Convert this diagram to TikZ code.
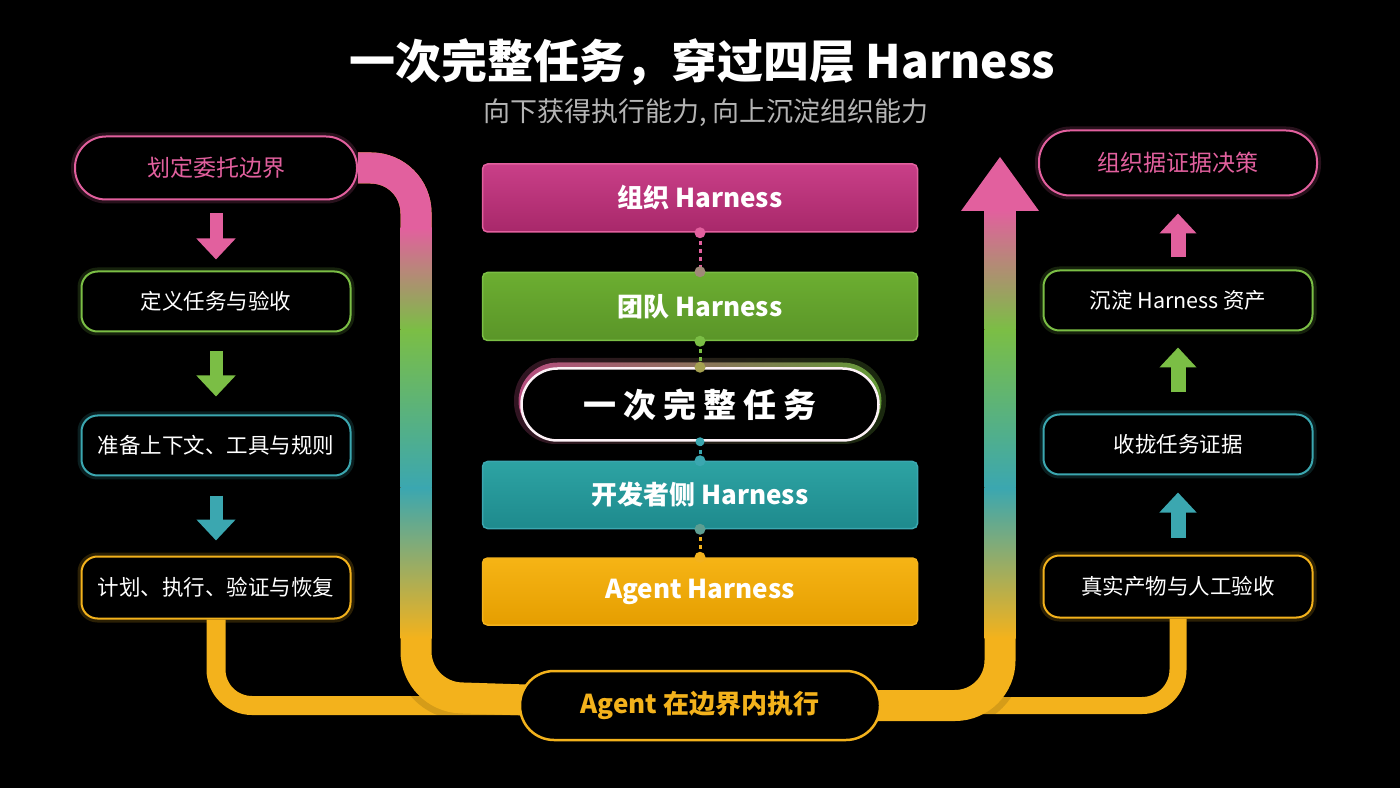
\documentclass[tikz,border=0pt]{standalone}
\usepackage{fontspec}
\setmainfont{Noto Sans CJK SC}
\usetikzlibrary{arrows.meta, positioning}
\definecolor{pinkc}{HTML}{E2609E}
\definecolor{greenc}{HTML}{7BBE45}
\definecolor{tealc}{HTML}{3BA7B0}
\definecolor{yellowc}{HTML}{F3B21C}
\definecolor{subgrey}{HTML}{B4B4B4}
\definecolor{orgtop}{HTML}{C93F88}
\definecolor{orgbot}{HTML}{A8286A}
\definecolor{teamtop}{HTML}{6CAE31}
\definecolor{teambot}{HTML}{5A9528}
\definecolor{devtop}{HTML}{2DA3A3}
\definecolor{devbot}{HTML}{1E8A8D}
\definecolor{agtop}{HTML}{F6B415}
\definecolor{agbot}{HTML}{E59E00}
\definecolor{mixa}{HTML}{A08A78}
\definecolor{mixb}{HTML}{A4A050}
\definecolor{mixc}{HTML}{5E9E92}
\pgfdeclarelayer{bg}
\pgfsetlayers{bg,main}

\begin{document}
\begin{tikzpicture}
[x=1pt, y=1pt,
   sidebox/.style={shape=rectangle, rounded corners=16pt, draw=#1, line width=2pt, fill=black,
     minimum width=269pt, minimum height=60pt, text=white, font=\fontsize{21.5}{24}\selectfont,
     preaction={draw=#1, line width=8pt, opacity=0.18}},
   endbox/.style={sidebox=#1, rounded corners=31pt, minimum height=63pt, text=#1,
     font=\fontsize{23}{26}\selectfont},
   layer/.style={shape=rectangle, rounded corners=5pt, line width=1.5pt, minimum width=435pt,
     minimum height=68pt, text=white, font=\bfseries\fontsize{26}{30}\selectfont},
   taskcap/.style={shape=rectangle, rounded corners=36pt, minimum width=357pt, minimum height=72pt,
     fill=black, draw=white!92!pinkc, line width=2.5pt, text=white, font=\bfseries\fontsize{33}{36}\selectfont},
   execcap/.style={shape=rectangle, rounded corners=34pt, minimum width=360pt, minimum height=69pt,
     fill=black, draw=yellowc, line width=2.5pt, text=yellowc, font=\bfseries\fontsize{26}{30}\selectfont},
   downarr/.style={line width=13pt, -{Triangle[width=38pt, length=21pt]}},
   uparr/.style={line width=15pt, -{Triangle[width=36pt, length=20pt]}},
   pipe/.style={line width=31pt, rounded corners=45pt},
   feed/.style={line width=19pt, rounded corners=36pt, yellowc},
   dotlink/.style={line width=3pt, dash pattern=on 4pt off 4pt}]
\useasboundingbox (0,0) rectangle (1400,788);
\node[font=\bfseries\fontsize{46}{52}\selectfont, text=white] (title) at (702,726) {一次完整任务，穿过四层 Harness};
\node[font=\fontsize{27}{30}\selectfont, text=subgrey] (subtitle) at (706,675) {向下获得执行能力, 向上沉淀组织能力};
% left column
\node[endbox=pinkc, minimum width=282pt] (delegate) at (216,620) {划定委托边界};
\node[sidebox=greenc] (define) [below=70pt of delegate] {定义任务与验收};
\node[sidebox=tealc] (prepare) [below=82pt of define] {准备上下文、工具与规则};
\node[sidebox=yellowc, minimum height=62pt] (plan) [below=79pt of prepare] {计划、执行、验证与恢复};
\draw[downarr, pinkc, shorten <=13pt, shorten >=11pt] (delegate) -- (define);
\draw[downarr, greenc, shorten <=19pt, shorten >=18pt] (define) -- (prepare);
\draw[downarr, tealc, shorten <=19pt, shorten >=15pt] (prepare) -- (plan);
% right column
\node[endbox=pinkc, minimum width=278pt, minimum height=65pt] (decide) at (1178,625) {组织据证据决策};
\node[sidebox=greenc] (settle) [below=73pt of decide] {沉淀 Harness 资产};
\node[sidebox=tealc] (collect) [below=82pt of settle] {收拢任务证据};
\node[sidebox=yellowc, minimum height=62pt] (real) [below=79pt of collect] {真实产物与人工验收};
\draw[uparr, pinkc, shorten <=12pt, shorten >=17pt] (settle) -- (decide);
\draw[uparr, greenc, shorten <=21pt, shorten >=16pt] (collect) -- (settle);
\draw[uparr, tealc, shorten <=17pt, shorten >=17pt] (real) -- (collect);
% the four layers
\node[layer, top color=orgtop, bottom color=orgbot, draw=pinkc] (org) at (700,590) {组织 Harness};
\node[layer, top color=teamtop, bottom color=teambot, draw=greenc] (team) [below=39pt of org] {团队 Harness};
\node[taskcap] (task) [below=26pt of team] {一\hspace{7pt}次\hspace{7pt}完\hspace{7pt}整\hspace{7pt}任\hspace{7pt}务};
\node[layer, top color=devtop, bottom color=devbot, draw=tealc, minimum height=67pt] (dev) [below=19pt of task] {开发者侧 Harness};
\node[layer, top color=agtop, bottom color=agbot, draw=yellowc, minimum height=67pt] (agentl) [below=28pt of dev] {Agent Harness};
\node[execcap] (exec) [below=44pt of agentl] {Agent 在边界内执行};
\draw[dotlink, pinkc] (org.south) -- (team.north);
\fill[pinkc] (org.south) circle (5.5);
\fill[mixa] (team.north) circle (5.5);
\draw[dotlink, greenc] (team.south) -- (task.north);
\fill[greenc] (team.south) circle (5.5);
\fill[mixb] (task.north) circle (5.5);
\draw[dotlink, tealc] (task.south) -- (dev.north);
\fill[tealc] (task.south) circle (4.5);
\fill[tealc] (dev.north) circle (5.5);
\draw[dotlink, yellowc] (dev.south) -- (agentl.north);
\fill[mixc] (dev.south) circle (5.5);
\fill[yellowc] (agentl.north) circle (5.5);
\coordinate (lb) at (416,91.5);
\coordinate (rt) at (1000,578);
\begin{pgfonlayer}{bg}
\fill[black] (0,0) rectangle (1400,788);
% feeds into the capsule
\draw[feed] (plan.south) |- (exec.center);
\draw[feed, line width=17pt] (real.south) |- (exec.center);
% pipe down
\draw[pipe, yellowc, preaction={draw, line width=44pt, opacity=0.12}] (delegate.east) -| (lb) -- (exec.center);
\draw[pipe, pinkc] (delegate.east) -| (416,540);
\shade[top color=pinkc, bottom color=greenc] (400.5,458) rectangle (431.5,560);
\shade[top color=greenc, bottom color=tealc] (400.5,300) rectangle (431.5,458);
\shade[top color=tealc, bottom color=yellowc] (400.5,150) rectangle (431.5,300);
% pipe up
\draw[pipe, yellowc, preaction={draw, line width=44pt, opacity=0.12}] (exec.center) -| (rt);
\shade[top color=tealc, bottom color=yellowc] (984.5,150) rectangle (1015.5,300);
\shade[top color=greenc, bottom color=tealc] (984.5,300) rectangle (1015.5,458);
\shade[top color=pinkc, bottom color=greenc] (984.5,458) rectangle (1015.5,578);
\fill[pinkc] (961,577) -- (1039,577) -- (1000,631) -- cycle;
% glow ring round the task
\fill[rounded corners=42pt, left color=pinkc, right color=greenc, opacity=0.22] (514,344) rectangle (886,430);
\fill[rounded corners=39pt, left color=pinkc, right color=greenc, opacity=0.8] (518.5,348.5) rectangle (881.5,425.5);
\end{pgfonlayer}
\end{tikzpicture}
\end{document}
